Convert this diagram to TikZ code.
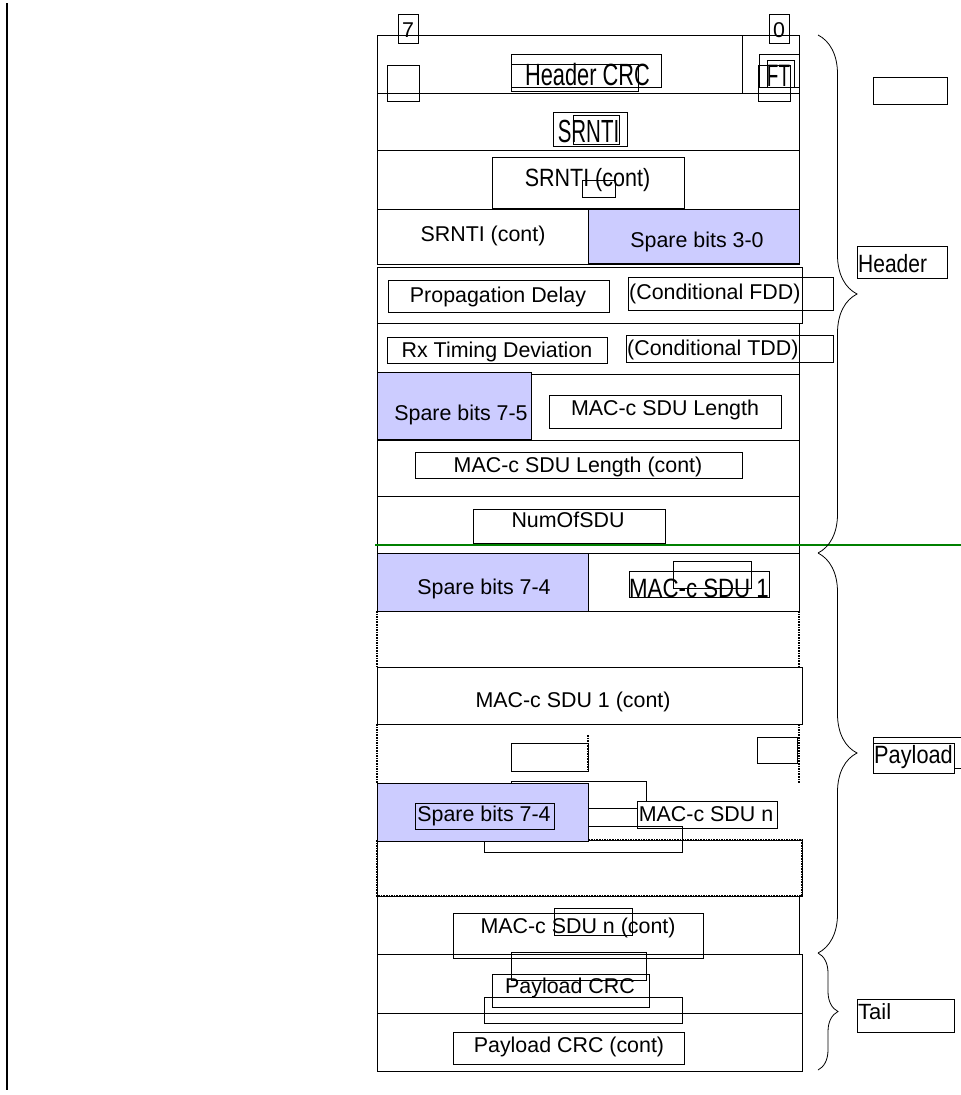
\documentclass[tikz,border=0pt]{standalone}
\usepackage{fontspec}
\setmainfont{Liberation Sans}
\usepackage{graphicx}
\usetikzlibrary{decorations.pathreplacing}
\definecolor{sparefill}{RGB}{204,204,255}
\definecolor{splitgreen}{RGB}{0,128,0}
% condensed label: size, x-scale, text
\newcommand{\narrowtext}[3]{\fontsize{#1}{#1}\selectfont\scalebox{#2}[1]{#3}}
\begin{document}
\begin{tikzpicture}[
  x=1pt, y=-1pt,
  every node/.style={inner sep=0pt, font=\fontsize{21.4}{24}\selectfont},
  octet/.style={draw, line width=1pt},
  gapside/.style={densely dotted, line width=1.6pt},
  spare/.style={draw, line width=1pt, fill=sparefill},
  field/.style={draw, line width=0.8pt},
  cover/.style={field, fill=white},
  sidebrace/.style={decorate, decoration={brace, amplitude=#1}, line width=0.8pt}
]
\useasboundingbox (0,0) rectangle (961,1095);

% left margin rule
\draw[line width=2pt] (7,3) -- (7,1090);

% octet rows
\draw[octet] (377,35) rectangle (799,93);
\draw[octet] (742,35) -- (742,93);
\draw[octet] (377,93) rectangle (799,150);
\draw[octet] (377,150) rectangle (799,209);
\draw[octet] (377,209) rectangle (799,264);
\draw[spare] (588,209) rectangle (799,263);
\draw[octet] (377,267) rectangle (802,323);
\draw[octet] (377,323) rectangle (799,374);
\draw[octet] (377,374) rectangle (799,440);
\draw[spare] (377,372) rectangle (531,439);
\draw[octet] (377,440) rectangle (799,496);
\draw[octet] (377,496) rectangle (799,553);
\draw[octet] (377,553) rectangle (799,611);
\draw[spare] (377,553) rectangle (588,611);
\draw[gapside] (377,611) -- (377,667);
\draw[gapside] (799,611) -- (799,667);
\draw[octet] (377,667) rectangle (802,724);
\draw[gapside] (377,724) -- (377,783);
\draw[gapside] (799,724) -- (799,783);
\draw[octet] (377,840) rectangle (802,896);
\draw[gapside] (377,840) rectangle (802,896);
\draw[octet] (377,896) rectangle (799,954);
\draw[octet] (377,954) rectangle (802,1013);
\draw[octet] (377,1013) rectangle (802,1071);

% bit numbers
\draw[field] (398,14) rectangle (418,43);
\draw[field] (769,14) rectangle (789,43);
\node[anchor=base] (bitmsb) at (408,37) {7};
\node[anchor=base] (bitlsb) at (779,37) {0};

% header fields
\draw[field] (387,65) rectangle (419,101);
\draw[field] (511,54) rectangle (661,87);
\draw[field] (511,64) rectangle (638,91);
\draw[field] (759,54) rectangle (799,87);
\draw[field] (767,60) rectangle (794,87);
\draw[field] (758,65) rectangle (790,101);
\node[anchor=base] (hcrc) at (587.5,85) {\narrowtext{30.7}{0.71}{Header CRC}};
\node[anchor=base] (ft) at (778.5,86) {\narrowtext{31}{0.61}{FT}};

\draw[field] (553,112) rectangle (627,146);
\draw[field] (573,115) rectangle (619,144);
\node[anchor=base] (srnti) at (588.5,142) {\narrowtext{32}{0.64}{SRNTI}};

\draw[field] (492,157) rectangle (684,208);
\draw[field] (582,180) rectangle (615,197);
\node[anchor=base] (srntia) at (587.5,186) {\narrowtext{25}{0.86}{SRNTI (cont)}};

\node[anchor=base] (srntib) at (483,241) {SRNTI (cont)};
\node[anchor=base] (spare30) at (697,247) {Spare bits 3-0};

\draw[field] (388,280) rectangle (609,312);
\draw[field] (628,277) rectangle (833,310);
\node[anchor=base] (propd) at (498,302) {Propagation Delay};
\node[anchor=base west] (fdd) at (629,299) {(Conditional FDD)};

\draw[field] (387,337) rectangle (607,363);
\draw[field] (626,335) rectangle (833,362);
\node[anchor=base] (rxtd) at (497,357) {Rx Timing Deviation};
\node[anchor=base west] (tdd) at (627,355) {(Conditional TDD)};

\draw[field] (549,395) rectangle (781,428);
\node[anchor=base] (spare75) at (461,420) {Spare bits 7-5};
\node[anchor=base] (sdulen) at (665,415) {MAC-c SDU Length};

\draw[field] (415,452) rectangle (742,478);
\node[anchor=base] (sdulenc) at (578,472) {MAC-c SDU Length (cont)};

\draw[field] (473,509) rectangle (665,543);
\node[anchor=base] (numsdu) at (568,527) {NumOfSDU};

% header / payload split
\draw[splitgreen, line width=1.5pt] (375,545) -- (961,545);

% payload fields
\node[anchor=base] (spare74a) at (484,594) {Spare bits 7-4};
\draw[field] (629,571) rectangle (769,597);
\draw[field] (673,561) rectangle (751,588);
\node[anchor=base] (sduone) at (699,597) {\narrowtext{26.5}{0.84}{MAC-c SDU 1}};

\node[anchor=base] (sduonec) at (573,707) {MAC-c SDU 1 (cont)};

\draw[field] (511,743) rectangle (588,771);
\draw[gapside] (588,735) -- (588,772);
\draw[field] (757,737) rectangle (797,763);

\draw[field] (511,781) rectangle (646,808);
\draw[cover] (637,801) rectangle (777,828);
\draw[field] (484,826) rectangle (682,852);
\draw[spare] (377,783) rectangle (588,841);
\draw[field] (415,803) rectangle (554,829);
\node[anchor=base] (spare74b) at (484,821) {Spare bits 7-4};
\node[anchor=base] (sdun) at (706,821) {MAC-c SDU n};

\draw[field] (453,913) rectangle (703,958);
\draw[field] (554,908) rectangle (632,935);
\node[anchor=base] (sdunc) at (578,933) {MAC-c SDU n (cont)};

% tail fields
\draw[field] (511,952) rectangle (646,980);
\draw[field] (492,974) rectangle (649,1007);
\draw[field] (484,997) rectangle (682,1023);
\node[anchor=base] (pcrc) at (570,993) {Payload CRC};

\draw[field] (453,1032) rectangle (684,1064);
\node[anchor=base] (pcrcc) at (569,1052) {Payload CRC (cont)};

% braces and their labels
\draw[sidebrace=39pt] (818,35) -- (818,553);
\draw[sidebrace=39pt] (818,553) -- (818,953);
\draw[sidebrace=20pt] (818,953) -- (818,1070);

\draw[field] (873,77) rectangle (947,104);
\draw[field] (857,246) rectangle (947,278);
\node[anchor=base west] (header) at (858,272) {\narrowtext{25}{0.84}{Header}};

\draw[field] (961,737) -- (873,737) -- (873,773) -- (954,773) -- (954,743) -- (873,743);
\draw[field] (954,768) -- (961,768);
\node[anchor=base west] (payload) at (874,763) {\narrowtext{25}{0.87}{Payload}};

\draw[field] (857,999) rectangle (954,1032);
\node[anchor=base west, font=\fontsize{22}{24}\selectfont] (tail) at (858,1019) {Tail};
\end{tikzpicture}
\end{document}
